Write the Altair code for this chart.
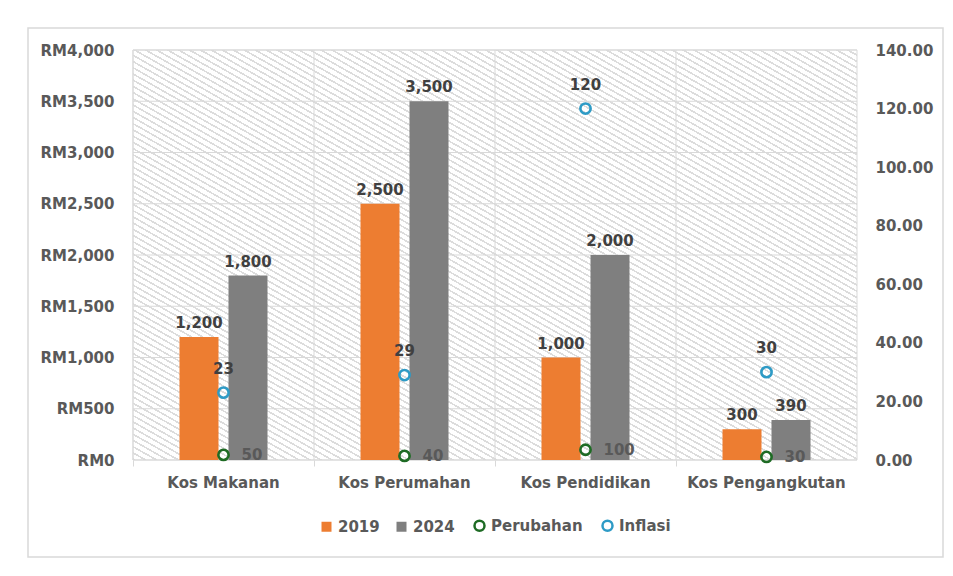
import altair as alt
import pandas as pd

# ---------------- data ----------------
CATEGORIES = ["Kos Makanan", "Kos Perumahan", "Kos Pendidikan", "Kos Pengangkutan"]
COST_2019 = [1200, 2500, 1000, 300]
COST_2024 = [1800, 3500, 2000, 390]
PERUBAHAN = [50, 40, 100, 30]
INFLASI = [23, 29, 120, 30]
LEFT_TICKS = [0, 500, 1000, 1500, 2000, 2500, 3000, 3500, 4000]
RIGHT_TICKS = [0, 20, 40, 60, 80, 100, 120, 140]
SERIES = ["2019", "2024", "Perubahan", "Inflasi"]
FILL_COLORS = ["#ED7D31", "#7F7F7F", "transparent", "transparent"]
STROKE_COLORS = ["transparent", "transparent", "#1E6B24", "#2E9BC6"]

bars_df = pd.DataFrame({
    "category": CATEGORIES * 2,
    "series": ["2019"] * len(CATEGORIES) + ["2024"] * len(CATEGORIES),
    "value": COST_2019 + COST_2024,
})
per_df = pd.DataFrame({"category": CATEGORIES, "series": "Perubahan", "value": PERUBAHAN})
inf_df = pd.DataFrame({"category": CATEGORIES, "series": "Inflasi", "value": INFLASI})
grid_df = pd.DataFrame({"tick": LEFT_TICKS})
bounds_df = pd.DataFrame({"category": CATEGORIES})

# ---------------- style ----------------
W, H = 724, 410
FONT = "DejaVu Sans"
AXIS_COLOR = "#595959"
LABEL_COLOR = "#404040"
GRID = "#d9d9d9"

# diagonal hatch background as a striped gradient
N_STRIPES = 132
FRAC = 0.3
HATCH = "#dcdcdc"
stops = []
for k in range(N_STRIPES):
    a = round(k / N_STRIPES, 5)
    b = round((k + FRAC) / N_STRIPES, 5)
    c = round((k + 1) / N_STRIPES, 5)
    stops += [
        {"color": HATCH, "offset": a},
        {"color": HATCH, "offset": b},
        {"color": "#ffffff", "offset": b},
        {"color": "#ffffff", "offset": c},
    ]
hatch_fill = {"gradient": "linear", "x1": 0, "y1": 1, "x2": 1, "y2": 0, "stops": stops}

x_axis = alt.Axis(
    title=None, labelAngle=0, labelFont=FONT, labelFontSize=15, labelFontWeight="bold",
    labelColor=AXIS_COLOR, bandPosition=0, ticks=True, tickSize=6, tickColor=GRID,
    tickWidth=1, domain=False, grid=False, labelPadding=9,
)


def xenc(band=None):
    if band is None:
        return alt.X("category:N", sort=CATEGORIES, axis=x_axis,
                     scale=alt.Scale(paddingInner=0, paddingOuter=0))
    return alt.X("category:N", sort=CATEGORIES, axis=x_axis, bandPosition=band,
                 scale=alt.Scale(paddingInner=0, paddingOuter=0))


left_axis = alt.Axis(
    title=None, values=LEFT_TICKS, labelExpr="'RM' + format(datum.value, ',')",
    grid=False, ticks=False, domain=False, labelPadding=19, labelFont=FONT,
    labelFontSize=15, labelFontWeight="bold", labelColor=AXIS_COLOR,
)
right_axis = alt.Axis(
    title=None, orient="right", values=RIGHT_TICKS, format=".2f",
    grid=False, ticks=False, domain=False, labelPadding=18, labelFont=FONT,
    labelFontSize=15, labelFontWeight="bold", labelColor=AXIS_COLOR,
)
left_scale = alt.Scale(domain=[0, 4000], nice=False, zero=True)
right_scale = alt.Scale(domain=[0, 140], nice=False, zero=True)

IS_BAR = "(datum.value == '2019' || datum.value == '2024')"
legend = alt.Legend(
    title=None, orient="none", legendX=186, legendY=468, direction="horizontal",
    labelFont=FONT, labelFontSize=15, labelFontWeight="bold", labelColor=AXIS_COLOR,
    labelOffset=4, columnPadding=14, padding=0,
    symbolType={"expr": f"{IS_BAR} ? 'square' : 'circle'"},
    symbolSize={"expr": f"{IS_BAR} ? 100 : 100"},
    symbolStrokeWidth={"expr": f"{IS_BAR} ? 0 : 2.5"},
    symbolOpacity=1,
)
fill_enc = alt.Fill("series:N", scale=alt.Scale(domain=SERIES, range=FILL_COLORS), legend=legend)
stroke_enc = alt.Stroke("series:N", scale=alt.Scale(domain=SERIES, range=STROKE_COLORS), legend=legend)

x_off = alt.XOffset("series:N", sort=["2019", "2024"],
                    scale=alt.Scale(paddingInner=0.204, paddingOuter=0.949))

one = alt.Data(values=[{"k": 0}])

frame = alt.Chart(one).mark_rect(fill="#ffffff", fillOpacity=0, stroke=GRID, strokeWidth=1.5).encode(
    x=alt.value(-105), x2=alt.value(810), y=alt.value(-22), y2=alt.value(507)
)
hatch = alt.Chart(one).mark_rect(fill=hatch_fill, stroke=GRID, strokeWidth=1).encode(
    x=alt.value(0), x2=alt.value(W), y=alt.value(0), y2=alt.value(H)
)
hgrid = alt.Chart(grid_df).mark_rule(color=GRID, strokeWidth=1).encode(
    y=alt.Y("tick:Q", scale=left_scale, axis=left_axis)
)
vgrid = alt.Chart(bounds_df).mark_rule(color=GRID, strokeWidth=1).encode(x=xenc(0))

bars = alt.Chart(bars_df).mark_bar().encode(
    x=xenc(), xOffset=x_off,
    y=alt.Y("value:Q", scale=left_scale, axis=left_axis),
    fill=fill_enc,
)
bar_text = alt.Chart(bars_df).mark_text(
    dy=-9, font=FONT, fontSize=15, fontWeight="bold", color=LABEL_COLOR, baseline="alphabetic"
).encode(
    x=xenc(), xOffset=x_off,
    y=alt.Y("value:Q", scale=left_scale, axis=left_axis),
    text=alt.Text("value:Q", format=","),
)
per_pts = alt.Chart(per_df).mark_point(shape="circle", filled=False, size=105, strokeWidth=2.6, opacity=1).encode(
    x=xenc(), y=alt.Y("value:Q", scale=left_scale, axis=left_axis), stroke=stroke_enc,
)
per_text = alt.Chart(per_df).mark_text(
    dx=18, align="left", baseline="middle", font=FONT, fontSize=15, fontWeight="bold", color=AXIS_COLOR
).encode(
    x=xenc(), y=alt.Y("value:Q", scale=left_scale, axis=left_axis), text=alt.Text("value:Q"),
)

inf_pts = alt.Chart(inf_df).mark_point(shape="circle", filled=False, size=105, strokeWidth=2.6, opacity=1).encode(
    x=xenc(), y=alt.Y("value:Q", scale=right_scale, axis=right_axis), stroke=stroke_enc,
)
inf_text = alt.Chart(inf_df).mark_text(
    dy=-19, baseline="alphabetic", font=FONT, fontSize=15, fontWeight="bold", color=LABEL_COLOR
).encode(
    x=xenc(), y=alt.Y("value:Q", scale=right_scale, axis=right_axis), text=alt.Text("value:Q"),
)

left = alt.layer(frame, hatch, hgrid, vgrid, bars, bar_text, per_pts, per_text)
right = alt.layer(inf_pts, inf_text)

chart = alt.layer(left, right).resolve_scale(y="independent").properties(
    width=W, height=H,
    autosize=alt.AutoSizeParams(type="none"),
    padding={"left": 125, "top": 42, "right": 87, "bottom": 100},
    background="#ffffff",
).configure_view(strokeWidth=0)

chart.save("out.html", embed_options={"renderer": "svg", "actions": False})
